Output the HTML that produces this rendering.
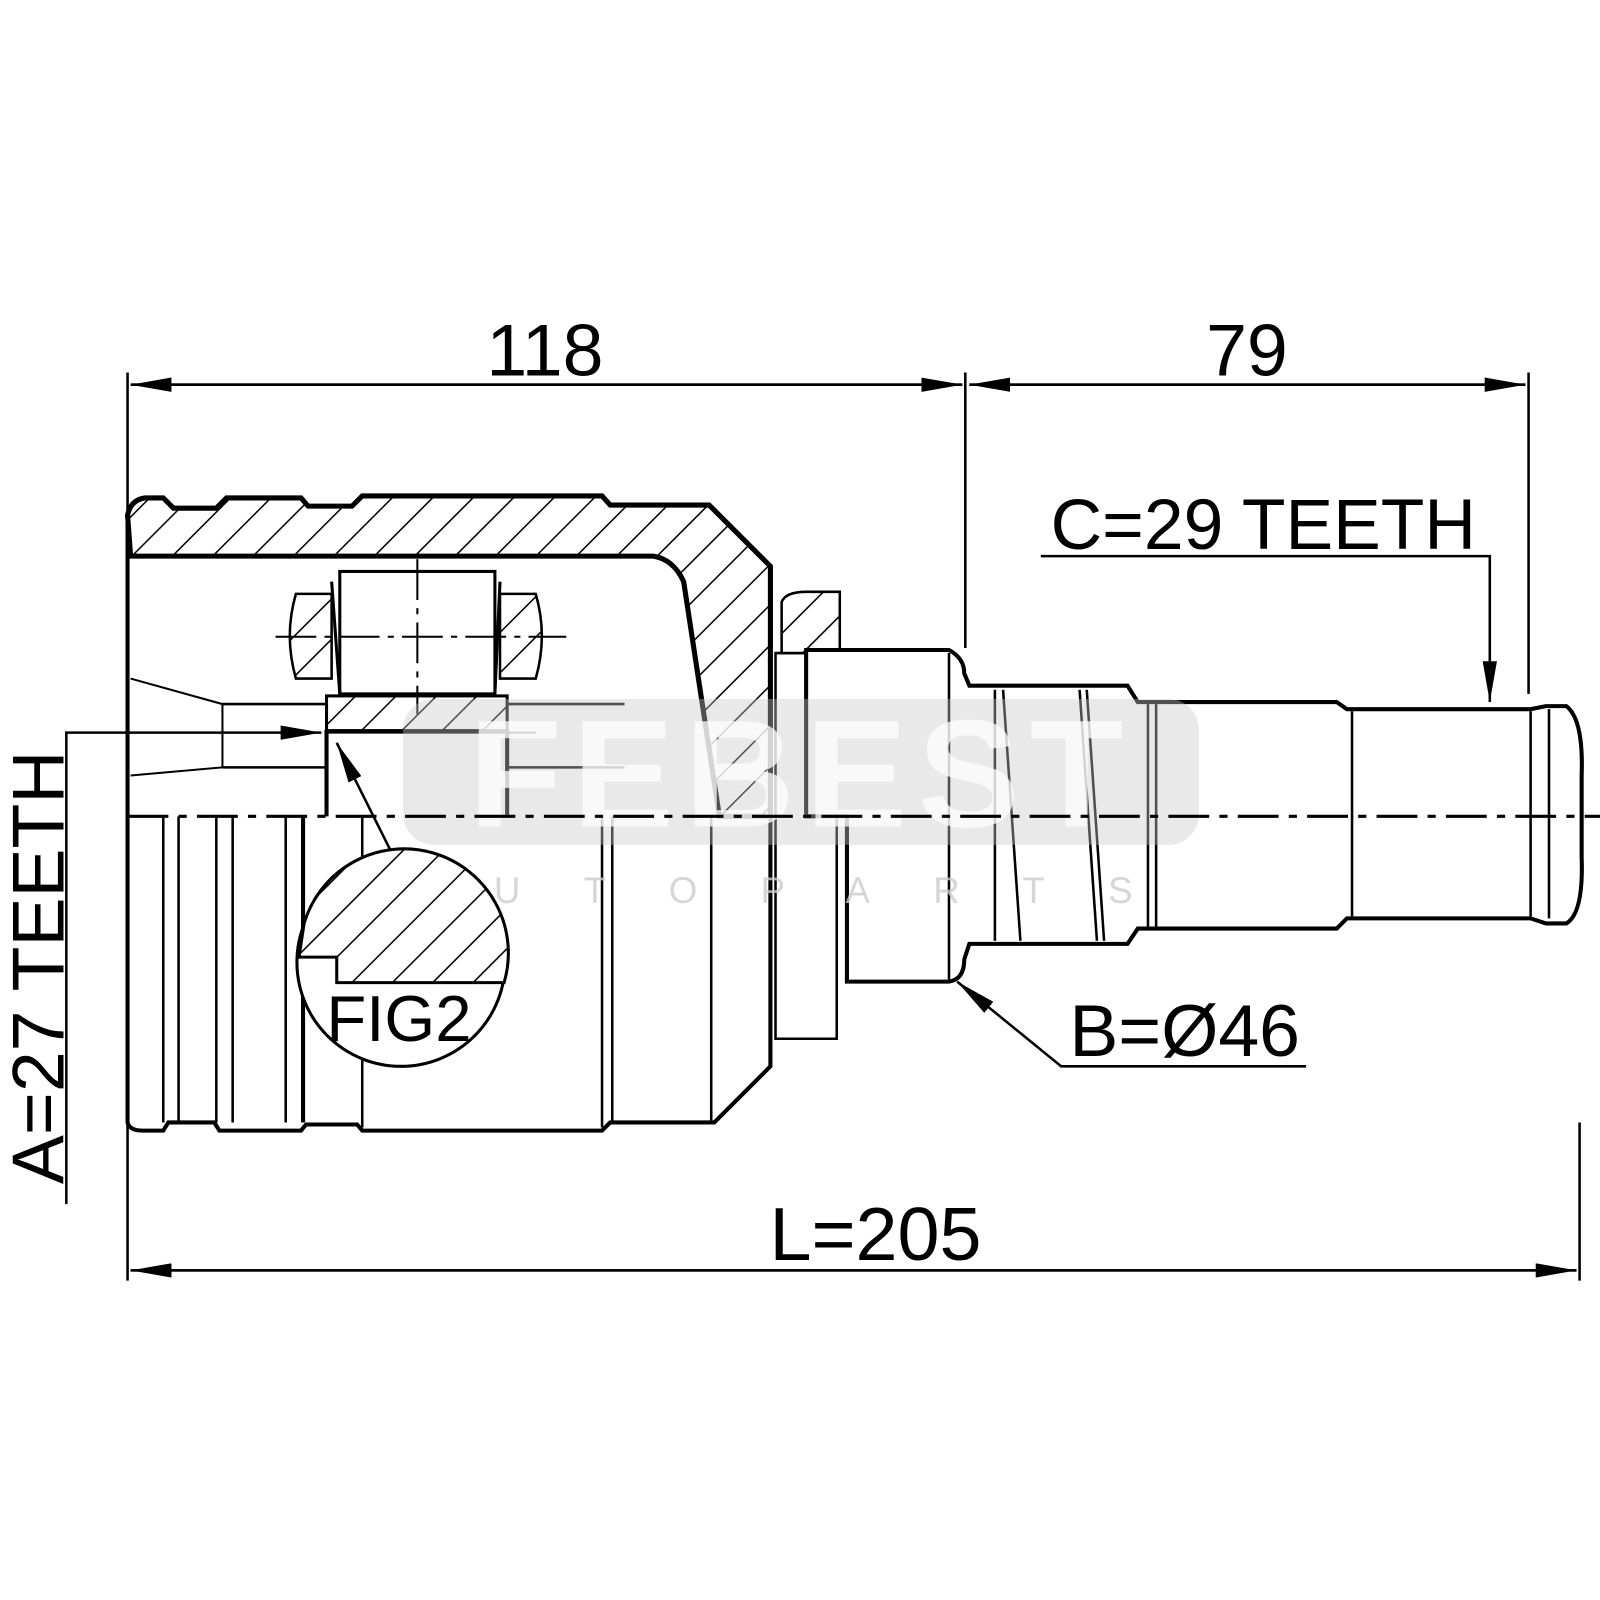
<!DOCTYPE html>
<html><head><meta charset="utf-8"><style>html,body{margin:0;padding:0;background:#fff}svg{display:block}</style></head>
<body>
<svg width="1600" height="1600" viewBox="0 0 1568 1568" xmlns="http://www.w3.org/2000/svg" font-family="Liberation Sans, sans-serif">
<defs>
<pattern id="h" patternUnits="userSpaceOnUse" width="28" height="28" patternTransform="rotate(45)">
<rect width="28" height="28" fill="#fff"/><line x1="0" y1="0" x2="0" y2="28" stroke="#000" stroke-width="3"/></pattern>
<marker id="b" markerWidth="40" markerHeight="14" refX="40" refY="7" orient="auto" markerUnits="userSpaceOnUse"><path d="M0,0 L40,7 L0,14z" fill="#000"/></marker>
</defs>

<g stroke="#000" fill="none" stroke-width="2.5">
<line x1="125" y1="365" x2="125" y2="1255"/>
<line x1="946" y1="365" x2="946" y2="635"/>
<line x1="1498" y1="365" x2="1498" y2="680"/>
<line x1="1548" y1="1100" x2="1548" y2="1255"/>
<line x1="943" y1="377" x2="128" y2="377" marker-end="url(#b)"/>
<line x1="130" y1="377" x2="943" y2="377" marker-end="url(#b)"/>
<line x1="950" y1="377" x2="1495" y2="377" marker-end="url(#b)"/>
<line x1="1495" y1="377" x2="950" y2="377" marker-end="url(#b)"/>
<line x1="128" y1="1245" x2="1545" y2="1245" marker-end="url(#b)"/>
<line x1="1545" y1="1245" x2="128" y2="1245" marker-end="url(#b)"/>
<polyline points="1020,545 1460,545 1460,688" marker-end="url(#b)"/>
<polyline points="1280,1045 1040,1045 938,962" marker-end="url(#b)"/>
<polyline points="65,1180 65,718 315,718" marker-end="url(#b)"/>
<line x1="392" y1="852" x2="330" y2="728" marker-end="url(#b)"/>
</g>

<path d="M125,505 Q128,490 142,488 L160,488 L170,498 L212,498 L222,488 L295,488 L302,496 L345,496 L355,486 L590,486 L598,495 L695,495 L755,555 L755,800 L705,800 L670,570 Q660,548 640,545 L128,545 Z" fill="url(#h)" stroke="#000" stroke-width="5"/>
<g stroke="#000" fill="none" stroke-width="4">
<path d="M125,505 L125,1100 Q127,1108 140,1108 L160,1108 L165,1100 L210,1100 L215,1108 L295,1108 L300,1102 L350,1102 L355,1108 L590,1108 L598,1100 L700,1100 L755,1045 L755,800"/>
<line x1="160" y1="800" x2="160" y2="1100" stroke-width="2.5"/>
<line x1="175" y1="800" x2="175" y2="1100" stroke-width="2.5"/>
<line x1="212" y1="800" x2="212" y2="1100" stroke-width="2.5"/>
<line x1="228" y1="800" x2="228" y2="1100" stroke-width="2.5"/>
<line x1="280" y1="800" x2="280" y2="1100" stroke-width="2.5"/>
<line x1="297" y1="800" x2="297" y2="1100"/>
<line x1="355" y1="800" x2="355" y2="1105" stroke-width="2.5"/>
<line x1="590" y1="800" x2="590" y2="1105" stroke-width="2.5"/>
<line x1="600" y1="800" x2="600" y2="1100" stroke-width="2.5"/>
<line x1="697" y1="800" x2="697" y2="1100" stroke-width="2.5"/>
<polyline points="128,665 218,690 218,752 128,760" stroke-width="2"/>
<line x1="218" y1="690" x2="320" y2="690" stroke-width="2.5"/>
<line x1="218" y1="752" x2="320" y2="752" stroke-width="2.5"/>
<line x1="320" y1="715" x2="320" y2="800"/>
<line x1="497" y1="715" x2="497" y2="800"/>
<line x1="497" y1="690" x2="612" y2="690" stroke-width="2.5"/>
<line x1="497" y1="752" x2="612" y2="752" stroke-width="2.5"/>
<line x1="320" y1="718" x2="525" y2="718" stroke-width="2"/>
</g>
<rect x="320" y="682" width="177" height="34" fill="url(#h)" stroke="#000" stroke-width="3"/>
<path d="M290,582 L325,582 L325,665 L290,665 Q278,623 290,582Z" fill="url(#h)" stroke="#000" stroke-width="2.5"/>
<path d="M490,582 L525,582 Q537,623 525,665 L490,665Z" fill="url(#h)" stroke="#000" stroke-width="2.5"/>
<rect x="333" y="560" width="152" height="120" fill="#fff" stroke="#000" stroke-width="3"/>
<line x1="325" y1="570" x2="333" y2="680" stroke="#000" stroke-width="3"/>
<line x1="490" y1="570" x2="485" y2="680" stroke="#000" stroke-width="3"/>
<g stroke="#000" stroke-width="2" stroke-dasharray="40,8,6,8" fill="none">
<line x1="270" y1="624" x2="555" y2="624"/>
<line x1="409" y1="548" x2="409" y2="700"/>
</g>

<g stroke="#000" stroke-width="4" fill="#fff">
<path d="M760,640 L820,640 L820,1018 L760,1018Z" stroke-width="2.5"/>
<path d="M766,590 Q770,580 790,580 L823,580 L823,640 L766,640Z" fill="url(#h)" stroke-width="2.5"/>
<path d="M790,637 L930,637 Q945,645 945,660 L950,672 L1105,672 L1115,688 L1310,688 L1320,695 L1500,695 L1515,692 L1535,692 Q1552,705 1550,760 L1550,840 Q1552,895 1535,905 L1515,905 L1500,900 L1320,900 L1310,910 L1115,910 L1105,925 L950,925 L945,940 Q945,960 930,962 L830,962 L830,800 L790,800Z"/>
</g>
<g stroke="#000" stroke-width="2.5">
<line x1="790" y1="637" x2="790" y2="800"/>
<line x1="930" y1="640" x2="930" y2="960"/>
<line x1="975" y1="676" x2="975" y2="922"/>
<line x1="983" y1="676" x2="1000" y2="922"/>
<line x1="1058" y1="676" x2="1075" y2="922"/>
<line x1="1065" y1="676" x2="1082" y2="922"/>
<line x1="1125" y1="690" x2="1125" y2="908"/>
<line x1="1133" y1="690" x2="1133" y2="908"/>
<line x1="1325" y1="697" x2="1325" y2="898"/>
<line x1="1500" y1="697" x2="1500" y2="898"/>
<line x1="1518" y1="695" x2="1518" y2="900"/>
</g>

<!-- watermark overlay -->
<rect x="395" y="685" width="780" height="143" rx="30" fill="#c8c8c8" opacity="0.4"/>
<text x="785" y="810" font-size="150" font-weight="bold" fill="#fff" opacity="0.75" text-anchor="middle" letter-spacing="10">FEBEST</text>
<text x="785" y="885" font-size="36" fill="#ccc" opacity="0.8" text-anchor="middle" letter-spacing="62">AUTOPARTS</text>

<line x1="125" y1="800" x2="1568" y2="800" stroke="#000" stroke-width="3" stroke-dasharray="40,10,8,10"/>

<circle cx="393" cy="943" r="102" fill="#fff" stroke="#000" stroke-width="3"/>
<path d="M298,905 A102,102 0 0 1 494,963 L330,963 L330,938 L293,938 Z" fill="url(#h)" stroke="#000" stroke-width="3"/>
<text x="391" y="1020" font-size="64" text-anchor="middle">FIG2</text>

<text x="534" y="368" font-size="72" text-anchor="middle">118</text>
<text x="1222" y="368" font-size="72" text-anchor="middle">79</text>
<text x="1238" y="538" font-size="70" text-anchor="middle">C=29 TEETH</text>
<text x="1161" y="1035" font-size="72" text-anchor="middle">B=Ø46</text>
<text x="858" y="1235" font-size="74" text-anchor="middle">L=205</text>
<text transform="translate(62,948) rotate(-90)" font-size="72" text-anchor="middle">A=27 TEETH</text>
</svg>
</body></html>
